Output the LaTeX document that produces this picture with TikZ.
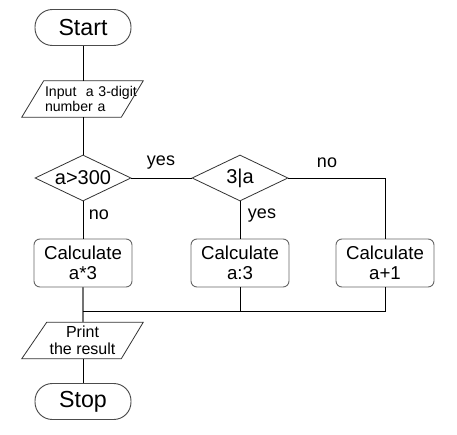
\documentclass[tikz,border=0pt]{standalone}
\usepackage{fontspec}
\setmainfont{Liberation Sans}
\usetikzlibrary{shapes.geometric,calc}
\begin{document}
\begin{tikzpicture}[x=0.75pt,y=-0.75pt,
  term/.style={draw=black!70, line width=0.7pt, rounded corners=13pt,
    minimum width=72pt, minimum height=27pt, inner sep=0pt,
    font=\fontsize{17.4pt}{20pt}\selectfont},
  proc/.style={draw=black!60, line width=0.7pt, rounded corners=4.5pt,
    minimum width=73.5pt, minimum height=36pt, inner sep=0pt, align=center,
    font=\fontsize{14pt}{15pt}\selectfont},
  dec/.style={diamond, draw=black!80, line width=0.6pt,
    minimum width=72pt, minimum height=34.5pt, inner sep=0pt,
    font=\fontsize{15pt}{17pt}\selectfont},
  io/.style={rectangle, minimum height=27pt, inner ysep=0pt},
  ioline/.style={draw=black!80, line width=0.6pt},
  conn/.style={draw=black, line width=0.75pt},
  lab/.style={font=\fontsize{13.5pt}{15pt}\selectfont, inner sep=0pt}]
\useasboundingbox (0,0) rectangle (457,435);
\fill[white] (0,0) rectangle (457,435);

\node[term] (start) at (83,27.5) {Start};

\node[io, inner xsep=17.25pt, text width=56.25pt, align=left,
  font=\fontsize{10.6pt}{9.75pt}\selectfont] (inp) at (82.5,99)
  {\mbox{Input\ \ a 3-digit}\\number a};
\draw[ioline] ($(inp.north west)+(22,0)$) -- (inp.north east)
  -- ($(inp.south east)+(-22,0)$) -- (inp.south west) -- cycle;

\node[dec] (d1) at (83,178) {\makebox[0pt]{a>300}};
\node[dec] (d2) at (240,178) {\makebox[0pt]{3|a}};

\node[proc] (c1) at (83,263) {Calculate\\a*3};
\node[proc] (c2) at (240,263) {Calculate\\a:3};
\node[proc] (c3) at (385,263) {Calculate\\a+1};

\coordinate (m) at (83,311);

\node[io, minimum width=90.75pt, inner xsep=0pt, align=center,
  font=\fontsize{12pt}{12.75pt}\selectfont] (pr) at (82.5,340.5)
  {Print\\the result};
\draw[ioline] ($(pr.north west)+(25,0)$) -- (pr.north east)
  -- ($(pr.south east)+(-22,0)$) -- (pr.south west) -- cycle;

\node[term] (stop) at (83,401.5) {Stop};

\draw[conn] (start.south) -- (start.south |- inp.north);
\draw[conn] (d1.north |- inp.south) -- (d1.north);
\draw[conn] (d1.east) -- (d2.west);
\draw[conn] (d1.south) -- (c1.north);
\draw[conn] (d2.south) -- (c2.north);
\draw[conn] (d2.east) -| (c3.north);
\draw[draw=black!55, line width=1.2pt] (c1.south) -- (c1.south |- pr.north);
\draw[conn] (c3.south) |- (m);
\draw[conn] (c2.south) -- (c2.south |- m);
\draw[conn] (stop.north |- pr.south) -- (stop.north);

\node[lab] (l1) at (161,163) {yes};
\node[lab] (l2) at (99,215) {no};
\node[lab] (l3) at (262,216) {yes};
\node[lab] (l4) at (327,163) {no};
\end{tikzpicture}
\end{document}
